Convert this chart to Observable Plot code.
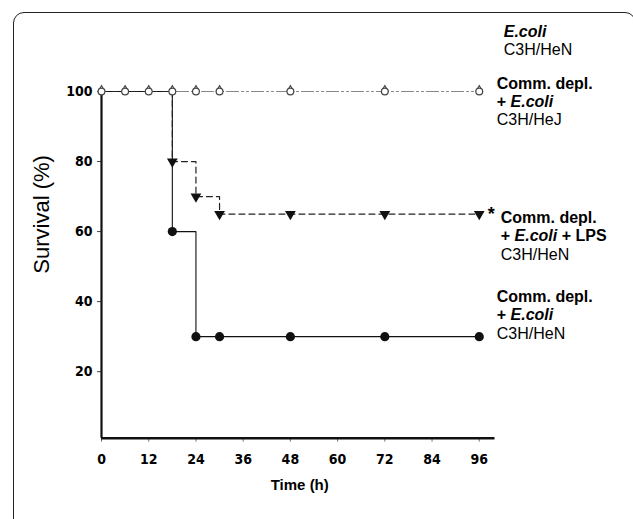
<!DOCTYPE html>
<html><head><meta charset="utf-8">
<script src="https://cdn.jsdelivr.net/npm/d3@7"></script>
<script src="https://cdn.jsdelivr.net/npm/@observablehq/plot@0.6"></script>
<style>
body{margin:0;background:#fff;}
#wrap{position:relative;width:633px;height:519px;overflow:hidden;background:#fff;}
#border{position:absolute;left:13px;top:12px;width:623px;height:560px;border:1.5px solid #222;border-radius:11px;box-sizing:border-box;}
#chart{position:absolute;left:0;top:0;}
</style></head><body>
<div id="wrap"><div id="border"></div><div id="chart"></div></div>
<script>
// ---- data ----
const times = [0, 6, 12, 18, 24, 30, 48, 72, 96];
const ecoliHeN = [100, 100, 100, 100, 100, 100, 100, 100, 100];   // E.coli, C3H/HeN
const deplHeJ = [100, 100, 100, 100, 100, 100, 100, 100, 100];    // Comm. depl. + E.coli, C3H/HeJ
const stepTimes = [0, 18, 24, 30, 48, 72, 96];
const deplLpsHeN = [100, 80, 70, 65, 65, 65, 65];                 // Comm. depl. + E.coli + LPS, C3H/HeN
const deplHeN = [100, 60, 30, 30, 30, 30, 30];                    // Comm. depl. + E.coli, C3H/HeN
const xTicks = [0, 12, 24, 36, 48, 60, 72, 84, 96];
const yTicks = [20, 40, 60, 80, 100];
const xTitle = "Time (h)";
const yTitle = "Survival (%)";
const labelLines = {
  ecoliHeN: [[["E.coli", "bi"]], [["C3H/HeN", "r"]]],
  deplHeJ: [[["Comm. depl.", "b"]], [["+ ", "b"], ["E.coli", "bi"]], [["C3H/HeJ", "r"]]],
  deplLpsHeN: [[["Comm. depl.", "b"]], [["+ ", "b"], ["E.coli", "bi"], [" + LPS", "b"]], [["C3H/HeN", "r"]]],
  deplHeN: [[["Comm. depl.", "b"]], [["+ ", "b"], ["E.coli", "bi"]], [["C3H/HeN", "r"]]]
};
const significance = "*";

// ---- tables ----
const flatRows = times.map((t, i) => ({t, a: ecoliHeN[i], b: deplHeJ[i]}));
const stepRows = stepTimes.map((t, i) => ({t, lps: deplLpsHeN[i], hen: deplHeN[i]}));

const tickFont = "'Liberation Sans Narrow','Arial Narrow','DejaVu Sans Condensed',sans-serif";
const labelFont = "'Liberation Sans',Arial,sans-serif";
const plot = Plot.plot({
  width: 633, height: 519,
  marginLeft: 101, marginRight: 138.5, marginTop: 91, marginBottom: 81.3,
  x: {domain: [0, 100]},
  y: {domain: [1, 100]},
  style: {fontFamily: tickFont, fontSize: "14px", fontWeight: "bold", color: "#000", background: "transparent", overflow: "visible"},
  marks: [
    Plot.axisX(xTicks, {tickSize: 4, tickPadding: 12, label: null, stroke: "#777", tickFormat: d => d}),
    Plot.axisY(yTicks, {tickSize: 4, tickPadding: 5, label: null, stroke: "#444", tickFormat: d => d}),
    Plot.ruleX([0], {y1: 1, y2: 100, stroke: "#111", strokeWidth: 2.2}),
    Plot.ruleY([1], {x1: 0, x2: 100, stroke: "#111", strokeWidth: 2.5}),
    Plot.line(flatRows, {x: "t", y: "b", stroke: "#bbb", strokeWidth: 1, strokeDasharray: "2,3"}),
    Plot.line(flatRows, {x: "t", y: "a", stroke: "#888", strokeWidth: 1.1, strokeDasharray: "12,3,2,3,2,3"}),
    Plot.line(stepRows, {x: "t", y: "hen", curve: "step-after", stroke: "#111", strokeWidth: 1.1}),
    Plot.line(stepRows, {x: "t", y: "lps", curve: "step-after", stroke: "#222", strokeWidth: 1.2, strokeDasharray: "6,4"}),
    Plot.dot(flatRows, {x: "t", y: "b", symbol: "triangle", r: 2.4, dy: -2.2, stroke: "#444", strokeWidth: 1.1, fill: "white"}),
    Plot.dot(flatRows, {x: "t", y: "a", symbol: "circle", r: 3.4, stroke: "#444", strokeWidth: 1.2, fill: "white"}),
    Plot.dot(stepRows, {filter: d => d.t > 0, x: "t", y: "lps", symbol: "triangle", rotate: 180, r: 4, fill: "#111", stroke: "none"}),
    Plot.dot(stepRows, {filter: d => d.t > 0, x: "t", y: "hen", symbol: "circle", r: 4.6, fill: "#111", stroke: "none"})
  ]
});
document.getElementById("chart").appendChild(plot);

// ---- annotations (series labels placed next to each series' last value) ----
const sx = plot.scale("x"), sy = plot.scale("y");
const svg = d3.select(plot);
const lastT = times[times.length - 1];
const place = {
  ecoliHeN: {v: ecoliHeN[ecoliHeN.length - 1], dx: 25, dy: -54},
  deplHeJ: {v: deplHeJ[deplHeJ.length - 1], dx: 18, dy: -2.5},
  deplLpsHeN: {v: deplLpsHeN[deplLpsHeN.length - 1], dx: 22, dy: 9.5},
  deplHeN: {v: deplHeN[deplHeN.length - 1], dx: 18, dy: -34}
};
const lh = 18.3;
for (const key of Object.keys(labelLines)) {
  const p = place[key];
  const x0 = sx.apply(lastT) + p.dx, y0 = sy.apply(p.v) + p.dy;
  labelLines[key].forEach((segs, i) => {
    const t = svg.append("text").attr("x", x0).attr("y", y0 + i * lh).attr("text-anchor", "start")
      .style("font-family", labelFont).style("font-size", "16px").attr("fill", "#000");
    for (const [s, st] of segs) {
      t.append("tspan").text(s)
        .style("font-weight", st === "r" ? "normal" : "bold")
        .style("font-style", st === "bi" ? "italic" : "normal");
    }
  });
}
svg.append("text").text(significance).attr("text-anchor", "start")
  .attr("x", sx.apply(lastT) + 9).attr("y", sy.apply(deplLpsHeN[deplLpsHeN.length - 1]) + 6)
  .style("font-family", labelFont).style("font-size", "18px").style("font-weight", "bold");

// axis titles
svg.append("text").text(xTitle)
  .attr("x", (sx.apply(0) + sx.apply(100)) / 2 + 2).attr("y", 490).attr("text-anchor", "middle")
  .style("font-family", labelFont).style("font-size", "15px").style("font-weight", "bold");
svg.append("text").text(yTitle)
  .attr("transform", `translate(49,${(sy.apply(1) + sy.apply(100)) / 2 - 50}) rotate(-90)`).attr("text-anchor", "middle")
  .style("font-family", labelFont).style("font-size", "22px").style("font-weight", "normal");
</script>
</body></html>
